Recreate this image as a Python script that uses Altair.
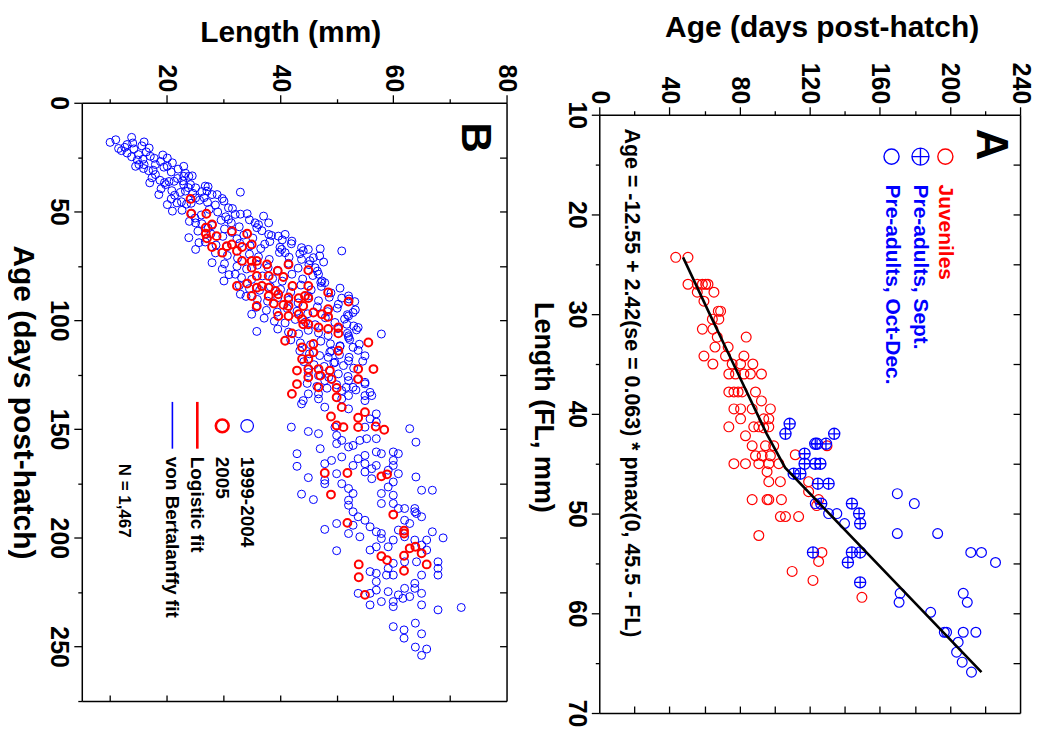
import altair as alt
import pandas as pd

FONT = "Liberation Sans"
RED = "#ff0000"
BLUE = "#0000ff"
CROSS = "M-1,0A1,1,0,1,1,1,0A1,1,0,1,1,-1,0ZM-1,0L1,0M0,-1L0,1"

# ---------------- Panel A : (length FL mm, age days) ----------------
juveniles = [
    (24.3, 43.6), (24.3, 50.6),
    (27.0, 50.6), (27.0, 55.9), (27.0, 58.8), (27.0, 60.7), (27.0, 62.0),
    (27.8, 55.9), (27.8, 65.4), (28.7, 59.7), (29.7, 67.9), (29.7, 69.2),
    (30.5, 64.5), (30.5, 68.2), (31.5, 58.8), (31.5, 64.8), (32.3, 67.3), (32.3, 83.8),
    (33.3, 66.0), (33.3, 73.5), (34.2, 59.7), (34.2, 72.0), (34.2, 82.5),
    (35.0, 64.8), (35.0, 75.8), (35.0, 80.6), (35.0, 87.6),
    (36.0, 73.9), (36.0, 77.7), (36.0, 82.5), (36.0, 86.2), (36.0, 92.5),
    (37.8, 73.9), (37.8, 76.8), (37.8, 79.2), (37.8, 81.5), (37.8, 89.1), (38.7, 92.5),
    (39.5, 76.8), (39.5, 80.6), (39.5, 87.2), (39.5, 97.6),
    (40.5, 80.6), (40.5, 93.8), (40.5, 96.7),
    (41.3, 73.9), (41.3, 88.1), (41.3, 91.0), (41.3, 96.7), (41.4, 93.8), (42.2, 83.4),
    (43.2, 87.2), (43.2, 94.8), (43.2, 99.5), (43.2, 129.9),
    (44.2, 89.1), (44.2, 92.9), (44.2, 97.6), (44.1, 111.8),
    (45.0, 76.8), (45.0, 83.4), (45.0, 91.0), (45.0, 96.7), (45.0, 102.4), (45.8, 95.7),
    (46.8, 96.7), (46.8, 103.3), (46.8, 119.4), (47.8, 119.4),
    (48.6, 87.2), (48.6, 95.7), (48.6, 96.7), (48.6, 103.9), (48.6, 125.1), (49.2, 124.0),
    (50.3, 103.3), (50.3, 106.2), (50.3, 113.7), (52.2, 91.0), (53.9, 127.0),
    (54.8, 125.1), (55.8, 110.0), (56.7, 121.9), (58.4, 149.8),
]
preadults_sept = [
    (41.0, 108.6), (42.0, 106.2), (42.0, 134.0), (43.0, 123.2), (43.0, 124.2), (43.0, 129.3),
    (44.0, 117.1), (45.0, 117.1), (45.0, 123.2), (45.0, 126.1), (46.0, 110.9), (46.0, 114.7),
    (47.0, 124.7), (47.0, 130.8), (49.0, 144.1), (49.0, 126.6), (50.0, 148.2), (51.0, 148.8),
    (53.9, 121.9), (53.9, 144.1), (53.9, 148.8), (54.9, 141.8), (56.9, 148.8),
]
preadults_oct = [
    (49.0, 123.2), (50.0, 130.8), (50.0, 135.5), (51.0, 139.9), (48.0, 170.0), (49.0, 179.7),
    (52.0, 170.0), (52.0, 193.0), (53.9, 211.9), (53.9, 218.0), (54.9, 226.0),
    (58.0, 171.6), (58.9, 171.0), (58.0, 207.6), (58.9, 209.9), (59.9, 189.0),
    (61.9, 196.8), (61.9, 198.1), (61.9, 207.6), (61.9, 214.8), (62.9, 204.7),
    (63.9, 203.8), (64.9, 207.0), (65.9, 212.3),
]
fit_len = [24.3, 30.0, 36.5, 42.0, 45.4, 65.9]
fit_age = [47.8, 63.0, 80.6, 95.5, 106.0, 218.0]

legendA_labels = ["Juveniles", "Pre-adults, Sept.", "Pre-adults, Oct-Dec."]
legendA_colors = [RED, BLUE, BLUE]
legendA_age = [197.4, 183.2, 166.7]
formula = "Age = -12.55 + 2.42(se = 0.063) * pmax(0, 45.5 - FL)"

# ---------------- Panel B : (length mm, age days) ----------------
blue_upper = [
    (10.0, 18.2), (11.0, 17.0), (12.0, 22.0), (13.0, 19.2), (13.8, 15.9), (14.0, 18.5), (15.0, 23.8),
    (15.1, 28.4), (16.0, 18.0), (16.0, 28.4), (13.0, 23.1), (16.9, 20.8), (17.1, 24.6), (18.0, 28.4),
    (14.5, 29.2), (17.0, 36.8), (18.0, 33.0), (18.6, 42.2), (20.1, 25.4), (20.1, 29.2), (20.1, 46.8),
    (21.0, 27.6), (21.0, 49.8), (21.3, 36.1), (23.0, 29.2), (23.0, 33.8), (23.0, 37.6), (19.8, 37.6),
    (21.8, 46.0), (23.3, 40.6), (23.9, 33.8), (24.2, 37.6), (25.1, 39.1), (25.1, 43.7), (26.8, 38.3),
    (27.1, 40.6), (28.0, 42.2), (28.9, 42.2), (30.1, 45.2), (30.9, 48.3), (33.0, 41.1), (32.1, 51.3),
    (30.9, 53.6), (34.2, 51.0), (25.1, 55.2), (23.9, 62.0), (25.1, 67.4), (25.7, 64.3), (28.0, 73.5),
    (29.8, 76.5), (30.1, 81.9), (32.1, 78.8), (33.0, 88.0), (35.0, 97.2), (35.9, 105.1), (35.6, 55.2),
    (37.1, 52.1), (38.0, 55.2), (35.9, 57.4), (38.0, 60.5), (39.7, 61.3), (40.9, 60.5), (42.1, 63.6),
    (40.3, 67.4), (40.9, 68.9), (43.8, 66.6), (45.0, 67.4), (47.1, 67.1), (50.9, 68.1), (43.8, 72.0),
    (45.9, 71.2), (47.7, 73.2), (46.2, 75.8), (46.8, 78.8), (47.4, 81.9), (47.9, 82.7), (50.9, 89.8),
    (52.1, 88.8), (53.2, 91.4), (52.9, 96.4), (52.1, 98.0), (53.8, 103.3), (57.9, 106.3), (51.8, 101.8),
    (52.1, 107.9), (52.9, 112.4), (55.0, 116.3), (52.1, 118.6), (52.1, 107.1), (50.6, 111.7),
    (49.1, 114.0), (48.5, 117.0), (49.7, 119.3), (52.1, 127.7), (52.9, 130.8), (55.0, 128.5),
    (55.9, 133.1), (55.0, 134.6), (52.1, 134.6), (50.9, 132.3), (47.9, 127.7), (46.8, 133.8),
    (45.0, 133.8), (44.1, 136.9),
]
blue_fill = [
    (12.6, 20.5), (14.2, 21.2), (15.6, 19.8), (16.4, 22.6), (11.5, 21.0),
    (13.8, 24.8), (15.8, 26.0), (17.8, 25.5), (18.9, 27.0), (19.3, 24.0), (14.8, 26.3),
    (15.9, 30.2), (17.6, 31.0), (19.5, 29.6), (20.8, 31.8), (22.0, 30.5), (23.3, 32.4), (16.8, 31.2),
    (17.4, 34.5), (18.8, 35.6), (20.4, 36.2), (21.9, 34.8), (22.8, 35.9), (24.5, 33.6), (19.6, 36.7),
    (19.0, 39.5), (20.9, 40.4), (22.4, 41.2), (23.8, 39.0), (24.6, 41.6), (26.2, 40.8), (27.3, 38.6), (21.4, 42.5),
    (20.8, 44.2), (22.6, 45.5), (24.3, 46.2), (25.8, 44.8), (27.2, 45.8), (28.6, 47.0), (29.8, 44.0), (23.5, 46.6), (26.6, 43.6),
    (22.7, 49.4), (24.4, 50.8), (26.1, 51.6), (27.5, 49.0), (29.0, 50.2), (30.4, 52.4), (31.6, 48.6), (33.0, 51.2), (25.0, 53.0),
    (24.0, 54.5), (26.2, 55.6), (28.0, 56.4), (29.6, 54.0), (31.4, 55.2), (32.8, 57.0), (34.6, 53.8), (36.2, 56.0), (30.2, 58.0), (27.3, 57.6),
    (25.5, 59.0), (27.8, 60.2), (29.9, 61.4), (31.5, 59.6), (33.6, 60.8), (35.2, 62.2), (36.8, 58.8), (38.5, 61.0), (40.4, 63.0), (32.4, 62.5),
    (26.8, 64.0), (28.7, 65.4), (30.6, 66.2), (32.9, 64.6), (34.7, 65.8), (36.6, 67.0), (38.2, 63.8), (40.0, 66.4), (42.0, 64.8), (44.1, 68.0), (37.3, 65.0),
    (28.6, 69.0), (30.7, 70.2), (32.5, 71.4), (34.6, 69.6), (36.2, 70.8), (38.1, 72.0), (39.9, 68.8), (41.6, 71.0), (43.5, 69.4), (45.3, 72.6), (47.0, 70.4),
    (30.2, 74.0), (32.4, 75.2), (34.1, 76.4), (36.0, 74.6), (37.9, 75.8), (39.6, 77.0), (41.5, 73.8), (43.2, 76.0), (45.1, 74.4), (46.6, 77.4),
    (31.0, 79.0), (33.2, 80.4), (35.0, 81.2), (36.9, 79.6), (38.7, 80.8), (40.4, 82.0), (42.1, 78.8), (44.0, 81.0), (45.8, 79.4), (47.2, 82.6),
    (32.8, 84.0), (34.6, 85.4), (36.4, 86.2), (38.3, 84.6), (40.1, 85.8), (41.9, 87.0), (43.7, 83.8), (45.5, 86.0), (47.3, 84.4), (49.0, 87.4), (50.6, 85.2),
    (34.0, 89.0), (36.0, 90.4), (37.8, 91.2), (39.6, 89.6), (41.5, 90.8), (43.2, 92.0), (45.0, 88.8), (46.8, 91.0), (48.7, 89.4), (50.3, 92.6), (52.2, 90.2),
    (35.8, 94.0), (37.6, 95.4), (39.5, 96.2), (41.3, 94.6), (43.0, 95.8), (44.9, 97.0), (46.6, 93.8), (48.4, 96.0), (50.1, 94.4), (51.9, 97.4), (53.3, 95.2),
    (37.2, 99.0), (39.0, 100.4), (40.9, 101.2), (42.7, 99.6), (44.5, 100.8), (46.2, 102.0), (48.0, 98.8), (49.7, 101.0), (51.4, 99.4), (53.0, 102.6),
    (39.6, 104.0), (41.5, 105.4), (43.3, 106.2), (45.0, 104.6), (46.8, 105.8), (48.5, 107.0), (50.2, 103.8), (51.9, 106.0), (53.5, 104.4),
    (41.9, 109.0), (43.6, 110.4), (45.4, 111.2), (47.2, 109.6), (48.9, 110.8), (50.6, 112.0), (52.3, 108.8), (54.0, 111.0),
    (43.5, 114.0), (45.2, 115.4), (47.0, 116.2), (48.8, 114.6), (50.5, 115.8), (52.2, 117.0), (53.8, 113.8),
    (44.2, 119.0), (46.0, 120.4), (47.8, 121.2), (49.5, 119.6), (51.2, 120.8), (53.0, 122.0), (54.6, 118.8),
    (45.0, 124.0), (46.8, 125.4), (48.6, 126.2), (50.3, 124.6), (52.0, 125.8), (53.7, 127.0),
    (44.8, 129.0), (46.5, 130.4), (48.3, 131.2), (50.0, 129.6), (51.7, 130.8), (53.4, 132.0), (55.0, 129.2),
]
blue_lower = [
    (43.8, 138.4), (46.8, 136.1), (47.9, 139.9), (50.9, 136.1), (52.1, 140.7), (55.0, 136.9), (56.2, 134.6),
    (57.0, 143.0), (55.9, 145.3), (57.0, 146.8), (55.0, 149.1), (54.1, 155.2), (55.3, 154.4), (57.0, 154.4),
    (52.9, 157.5), (52.1, 158.2), (50.9, 155.2), (50.0, 156.7), (50.0, 152.9), (49.7, 149.1), (46.8, 152.1),
    (45.0, 151.1), (42.0, 149.1), (43.0, 161.3), (43.0, 167.1), (45.0, 172.3), (43.8, 179.9), (45.9, 182.4),
    (47.1, 159.0), (47.9, 165.9), (49.1, 164.4), (47.9, 173.5), (47.9, 175.1), (50.9, 162.8), (50.9, 175.1),
    (50.0, 170.5), (52.1, 177.3), (52.1, 182.7), (52.1, 185.0), (52.9, 188.0), (52.9, 179.6), (52.9, 166.7),
    (53.8, 163.6), (55.0, 162.1), (55.0, 165.9), (55.0, 169.7), (56.2, 168.2), (56.2, 172.8), (57.0, 160.5),
    (57.0, 166.7), (57.9, 161.3), (57.9, 179.6), (57.9, 184.2), (59.1, 176.6), (60.0, 160.5), (60.9, 161.3),
    (60.0, 164.4), (60.0, 166.7), (59.1, 168.9), (60.9, 170.5), (60.0, 174.3), (60.0, 180.4), (60.0, 184.2),
    (60.9, 186.5), (62.0, 186.5), (63.8, 186.5), (65.0, 190.3), (62.0, 191.9), (62.9, 193.4), (63.8, 188.0),
    (60.9, 196.4), (60.0, 201.0), (59.1, 204.1), (57.9, 200.3), (57.0, 197.2), (55.9, 194.9), (55.0, 191.9),
    (53.8, 190.3), (52.9, 194.2), (52.1, 198.0), (54.1, 199.5), (50.0, 193.4), (47.9, 196.1), (50.0, 205.9),
    (55.9, 205.6), (57.0, 204.1), (57.9, 198.0), (62.0, 199.5), (63.8, 201.0), (65.9, 201.0), (66.9, 197.2),
    (68.8, 200.0), (65.0, 203.3), (65.9, 205.6), (64.1, 211.0), (62.0, 211.0), (60.0, 211.7), (59.1, 214.0),
    (60.0, 217.1), (58.8, 217.1), (57.0, 216.3), (57.0, 220.1), (55.9, 215.5), (57.0, 224.0), (55.9, 225.5),
    (53.8, 225.5), (55.9, 230.8), (57.9, 229.3), (59.1, 224.7), (60.0, 229.3), (60.0, 231.6), (60.9, 226.2),
    (62.0, 223.2), (62.9, 227.0), (61.7, 227.8), (63.8, 220.9), (63.8, 223.2), (65.0, 217.1), (65.0, 225.5),
    (65.0, 230.8), (67.9, 211.0), (67.9, 214.0), (67.9, 217.1), (67.9, 233.1), (72.0, 232.0), (62.9, 149.8),
    (64.0, 156.0), (64.0, 172.0), (65.0, 178.1), (66.9, 178.1), (64.1, 188.8), (60.0, 240.8), (61.9, 242.3),
    (61.9, 246.1), (63.9, 239.2), (65.0, 244.1), (63.9, 250.2), (65.9, 251.1), (65.0, 254.0),
]
red_2005 = [
    (24.2, 44.2), (24.3, 51.0), (27.0, 51.0), (28.0, 55.9), (26.9, 57.4), (26.9, 60.2), (27.1, 62.3),
    (28.8, 61.3), (31.5, 59.0), (34.2, 60.2), (35.0, 65.1), (33.3, 66.3), (31.5, 65.1), (30.6, 65.9),
    (29.8, 68.9), (28.0, 66.3), (32.4, 68.1), (33.3, 72.7), (35.0, 72.7), (35.9, 72.7), (37.7, 74.3),
    (39.6, 77.3), (41.5, 74.3), (45.0, 77.0), (35.0, 75.8), (35.9, 79.6), (38.0, 79.6), (40.6, 80.1),
    (34.2, 83.1), (32.4, 84.2), (35.9, 85.0), (36.8, 84.2), (38.0, 85.0), (39.2, 86.5), (42.2, 84.2),
    (45.0, 84.2), (35.0, 88.8), (38.0, 88.8), (39.7, 88.0), (41.5, 89.5), (43.3, 89.8), (44.4, 88.8),
    (45.0, 89.8), (48.5, 87.2), (52.1, 91.4), (35.9, 93.4), (38.9, 92.3), (40.6, 92.9), (41.5, 93.4),
    (44.1, 93.4), (45.9, 96.4), (47.4, 97.2), (48.5, 94.9), (48.5, 98.4), (39.7, 98.0), (41.5, 98.0),
    (43.3, 97.2), (43.9, 99.5), (44.1, 101.8), (45.0, 101.8), (46.8, 103.3), (48.5, 104.0), (50.3, 103.3),
    (50.3, 106.0), (42.1, 106.0), (40.9, 109.4), (43.9, 112.4), (45.9, 110.9), (45.9, 114.7), (43.9, 117.8),
    (45.0, 117.8), (50.3, 114.0), (55.6, 110.2), (43.0, 123.1), (45.0, 122.4), (46.8, 122.4), (48.8, 123.1),
    (47.1, 125.4), (45.0, 126.2), (49.1, 127.0), (43.0, 129.3), (46.8, 130.8), (50.0, 131.1), (50.0, 135.4),
    (42.1, 133.8), (53.8, 122.4), (56.5, 122.4), (53.8, 127.0),
    (50.9, 139.9), (55.0, 142.2), (49.0, 144.2), (53.8, 144.8), (50.0, 148.3), (51.2, 149.1), (53.8, 149.1),
    (56.9, 148.8), (58.4, 150.3), (47.9, 170.2), (51.9, 170.2), (57.9, 171.7), (58.9, 170.8), (49.0, 180.1),
    (60.0, 189.3), (51.9, 193.1), (61.9, 196.7), (61.9, 198.0), (63.9, 204.1), (62.9, 204.8), (57.9, 208.4),
    (58.9, 210.2), (61.9, 208.2), (65.0, 207.1), (65.9, 212.2), (53.9, 212.2), (53.9, 218.1), (61.9, 215.1),
    (55.0, 226.2),
]
legendB_labels = ["1999-2004", "2005", "Logistic fit", "von Bertalanffy fit"]
legendB_len = [34.2, 29.8, 25.4, 21.0]


def df(pts):
    return pd.DataFrame(pts, columns=["len", "age"])


def axis(orient, values, size, labels=True, domain=True, title=None, offset=0, **kw):
    base = dict(orient=orient, values=values, tickSize=size, tickColor="black", tickWidth=1.3,
                domain=domain, domainColor="black", domainWidth=1.5, labels=labels, grid=False,
                offset=offset, labelFont=FONT, labelFontSize=25, labelFontWeight="bold",
                labelColor="black", labelOverlap=False, labelFlush=False, labelBound=False,
                titleFont=FONT, titleFontSize=30, titleFontWeight="bold", titleColor="black",
                title=title)
    base.update(kw)
    return alt.Axis(**base)


# ============ Panel A ============
WA, HA = 422, 612
sxA = alt.Scale(domain=[0, 240], nice=False, zero=False)
syA = alt.Scale(domain=[10, 70], range=[12, 612], nice=False, zero=False)

axA_top = axis("top", list(range(0, 241, 40)), 8, offset=-12, title="Age (days post-hatch)",
               labelAngle=90, labelAlign="right", labelBaseline="middle", labelPadding=3,
               titleX=223, titleY=-87, titleAlign="center", titleBaseline="middle", titleAngle=0)
axA_left = axis("left", list(range(10, 71, 10)), 8, title="Length (FL, mm)",
                labelAngle=90, labelAlign="center", labelBaseline="top", labelPadding=3,
                titleX=-57, titleY=305, titleAlign="center", titleBaseline="middle", titleAngle=90,
                titleFontSize=27)
axA_top_minor = axis("top", list(range(20, 221, 40)), 4, labels=False, domain=False, offset=-12)
axA_left_minor = axis("left", list(range(15, 66, 10)), 4, labels=False, domain=False)
axA_bottom = axis("top", list(range(20, 221, 20)), 7, labels=False, offset=-612)
axA_right = axis("left", list(range(15, 66, 5)), 7, labels=False, offset=-WA)

juvA = alt.Chart(df(juveniles)).mark_point(shape="circle", filled=False, color=RED, size=97,
                                           strokeWidth=1.2, opacity=1).encode(
    x=alt.X("age:Q", scale=sxA, axis=axA_top), y=alt.Y("len:Q", scale=syA, axis=axA_left))
septA = alt.Chart(df(preadults_sept)).mark_point(shape=CROSS, filled=False, color=BLUE, size=125,
                                                 strokeWidth=1.3, opacity=1).encode(
    x=alt.X("age:Q", scale=sxA, axis=axA_top_minor), y=alt.Y("len:Q", scale=syA, axis=axA_left_minor))
octA = alt.Chart(df(preadults_oct)).mark_point(shape="circle", filled=False, color=BLUE, size=97,
                                               strokeWidth=1.2, opacity=1).encode(
    x=alt.X("age:Q", scale=sxA, axis=axA_bottom), y=alt.Y("len:Q", scale=syA, axis=axA_right))
fitA = alt.Chart(pd.DataFrame({"len": fit_len, "age": fit_age})).mark_line(
    color="black", strokeWidth=2.6).encode(
    x=alt.X("age:Q", scale=sxA, axis=None), y=alt.Y("len:Q", scale=syA, axis=None), order="len:Q")

legA = pd.DataFrame({"age": legendA_age, "len": [14.2] * 3, "tlen": [17.0] * 3,
                     "label": legendA_labels, "col": legendA_colors})
legA_circ = alt.Chart(legA.iloc[[0, 2]]).mark_point(shape="circle", filled=False, size=230,
                                                    strokeWidth=1.4, opacity=1).encode(
    x=alt.X("age:Q", scale=sxA, axis=None), y=alt.Y("len:Q", scale=syA, axis=None),
    color=alt.Color("col:N", scale=None))
legA_cross = alt.Chart(legA.iloc[[1]]).mark_point(shape=CROSS, filled=False, size=290,
                                                  strokeWidth=1.4, opacity=1, color=BLUE).encode(
    x=alt.X("age:Q", scale=sxA, axis=None), y=alt.Y("len:Q", scale=syA, axis=None))
legA_text = alt.Chart(legA).mark_text(angle=90, align="left", baseline="middle", font=FONT,
                                      fontSize=21, fontWeight="bold").encode(
    x=alt.X("age:Q", scale=sxA, axis=None), y=alt.Y("tlen:Q", scale=syA, axis=None),
    text="label:N", color=alt.Color("col:N", scale=None))
labA = pd.DataFrame({"age": [223.0, 18.2], "len": [13.0, 36.9], "t": ["A", formula]})
textA_big = alt.Chart(labA.iloc[[0]]).mark_text(angle=90, align="center", baseline="middle",
                                                font=FONT, fontSize=44, fontWeight="bold",
                                                color="black").encode(
    x=alt.X("age:Q", scale=sxA, axis=None), y=alt.Y("len:Q", scale=syA, axis=None), text="t:N")
textA_f = alt.Chart(labA.iloc[[1]]).mark_text(angle=90, align="center", baseline="middle",
                                              font=FONT, fontSize=21.5, fontWeight="bold",
                                              color="black").encode(
    x=alt.X("age:Q", scale=sxA, axis=None), y=alt.Y("len:Q", scale=syA, axis=None), text="t:N")

panelA = alt.layer(juvA, septA, octA, fitA, legA_circ, legA_cross, legA_text, textA_big,
                   textA_f).resolve_axis(x="independent", y="independent").properties(
    width=WA, height=HA)

# ============ Panel B ============
WB, HB = 426, 612
sxB = alt.Scale(domain=[5, 80], nice=False, zero=False)
syB = alt.Scale(domain=[0, 275], range=[0, 600], nice=False, zero=False)

axB_top = axis("top", [20, 40, 60, 80], 8, title="Length (mm)",
               labelAngle=90, labelAlign="right", labelBaseline="middle", labelPadding=3,
               titleX=209, titleY=-70, titleAlign="center", titleBaseline="middle", titleAngle=0)
axB_left = axis("left", list(range(0, 251, 50)), 8, title="Age (days post-hatch)",
                labelAngle=90, labelAlign="center", labelBaseline="top", labelPadding=3,
                titleX=-59, titleY=300, titleAlign="center", titleBaseline="middle", titleAngle=90)
axB_top_minor = axis("top", [10, 30, 50, 70], 4, labels=False, domain=False)
axB_left_minor = axis("left", list(range(25, 276, 50)), 4, labels=False, domain=False)
axB_bottom = axis("top", list(range(10, 71, 10)), 6, labels=False, offset=-600)
axB_right = axis("left", list(range(25, 251, 25)), 7, labels=False, offset=-WB)

blueB = alt.Chart(df(blue_upper + blue_fill + blue_lower)).mark_point(
    shape="circle", filled=False, color=BLUE, size=64, strokeWidth=1, opacity=1).encode(
    x=alt.X("len:Q", scale=sxB, axis=axB_top), y=alt.Y("age:Q", scale=syB, axis=axB_left))
redB = alt.Chart(df(red_2005)).mark_point(
    shape="circle", filled=False, color=RED, size=62, strokeWidth=2, opacity=1).encode(
    x=alt.X("len:Q", scale=sxB, axis=axB_top_minor), y=alt.Y("age:Q", scale=syB, axis=axB_left_minor))

legB = pd.DataFrame({"len": legendB_len, "age": [148.5] * 4, "tage": [162.7] * 4,
                     "a1": [137.5] * 4, "a2": [159.0] * 4, "label": legendB_labels,
                     "col": [BLUE, RED, RED, BLUE]})
legB_blue = alt.Chart(legB.iloc[[0]]).mark_point(shape="circle", filled=False, color=BLUE,
                                                 size=160, strokeWidth=1.2, opacity=1).encode(
    x=alt.X("len:Q", scale=sxB, axis=axB_bottom), y=alt.Y("age:Q", scale=syB, axis=axB_right))
legB_red = alt.Chart(legB.iloc[[1]]).mark_point(shape="circle", filled=False, color=RED,
                                                size=165, strokeWidth=2.6, opacity=1).encode(
    x=alt.X("len:Q", scale=sxB, axis=None), y=alt.Y("age:Q", scale=syB, axis=None))
legB_red_line = alt.Chart(legB.iloc[[2]]).mark_rule(color=RED, strokeWidth=2.6).encode(
    x=alt.X("len:Q", scale=sxB, axis=None), y=alt.Y("a1:Q", scale=syB, axis=None), y2="a2:Q")
legB_blue_line = alt.Chart(legB.iloc[[3]]).mark_rule(color=BLUE, strokeWidth=1.6).encode(
    x=alt.X("len:Q", scale=sxB, axis=None), y=alt.Y("a1:Q", scale=syB, axis=None), y2="a2:Q")
legB_text = alt.Chart(legB).mark_text(angle=90, align="left", baseline="middle", font=FONT,
                                      fontSize=19, fontWeight="bold", color="black").encode(
    x=alt.X("len:Q", scale=sxB, axis=None), y=alt.Y("tage:Q", scale=syB, axis=None), text="label:N")
labB = pd.DataFrame({"len": [74.4, 12.4], "age": [16.0, 165.9], "t": ["B", "N = 1,467"]})
textB_big = alt.Chart(labB.iloc[[0]]).mark_text(angle=90, align="center", baseline="middle",
                                                font=FONT, fontSize=42, fontWeight="bold",
                                                color="black").encode(
    x=alt.X("len:Q", scale=sxB, axis=None), y=alt.Y("age:Q", scale=syB, axis=None), text="t:N")
textB_n = alt.Chart(labB.iloc[[1]]).mark_text(angle=90, align="left", baseline="middle",
                                              font=FONT, fontSize=17, fontWeight="bold",
                                              color="black").encode(
    x=alt.X("len:Q", scale=sxB, axis=None), y=alt.Y("age:Q", scale=syB, axis=None), text="t:N")

panelB = alt.layer(blueB, redB, legB_blue, legB_red, legB_red_line, legB_blue_line, legB_text,
                   textB_big, textB_n).resolve_axis(x="independent", y="independent").properties(
    width=WB, height=HB)

chart = alt.hconcat(panelB, panelA, spacing=93, bounds="flush").properties(
    padding={"left": 0, "top": 4, "right": 5, "bottom": 5}
).configure_view(stroke=None)

chart.save("out.html", embed_options={"renderer": "svg", "actions": False})
